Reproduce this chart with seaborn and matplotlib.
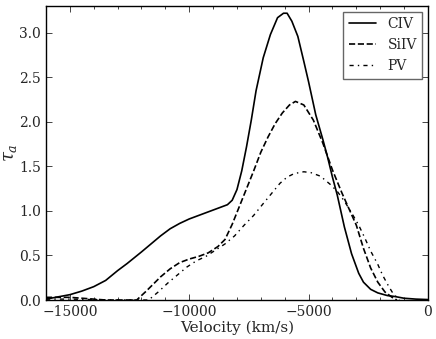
import matplotlib
matplotlib.use("Agg")
import matplotlib.pyplot as plt
import seaborn as sns
from matplotlib.ticker import MultipleLocator

# C IV optical depth profile
civ_v = [-16000, -15400, -15000, -14500, -14000, -13500, -13000, -12600, -12000, -11600,
         -11200, -10800, -10400, -10000, -9500, -9000, -8700, -8400, -8200, -8000,
         -7800, -7600, -7400, -7200, -6900, -6600, -6300, -6050, -5900, -5700,
         -5450, -5200, -5000, -4700, -4400, -4200, -4000, -3800, -3500, -3200,
         -2900, -2700, -2400, -2100, -1700, -1400, -1000, -500, 0]
civ_tau = [0.01, 0.04, 0.06, 0.10, 0.15, 0.22, 0.33, 0.41, 0.54, 0.63,
           0.72, 0.80, 0.86, 0.91, 0.96, 1.01, 1.04, 1.07, 1.12, 1.24,
           1.45, 1.72, 2.02, 2.35, 2.72, 2.98, 3.17, 3.22, 3.22, 3.13,
           2.96, 2.68, 2.45, 2.08, 1.80, 1.60, 1.38, 1.18, 0.82, 0.52,
           0.30, 0.20, 0.12, 0.08, 0.05, 0.04, 0.02, 0.01, 0.005]

# Si IV
siiv_v = [-16000, -15500, -15000, -14500, -14000, -13500, -12200, -11800, -11200, -10800,
          -10400, -10000, -9600, -9200, -8800, -8500, -8200, -7900, -7600, -7300,
          -7000, -6700, -6400, -6100, -5800, -5550, -5200, -4800, -4400, -4000,
          -3600, -3300, -3000, -2700, -2400, -2100, -1800, -1500, -1300]
siiv_tau = [0.03, 0.03, 0.03, 0.02, 0.01, 0.0, 0.0, 0.10, 0.26, 0.35,
            0.42, 0.46, 0.49, 0.53, 0.60, 0.68, 0.85, 1.05, 1.25, 1.45,
            1.66, 1.83, 1.98, 2.10, 2.19, 2.23, 2.19, 2.02, 1.76, 1.46,
            1.20, 1.02, 0.84, 0.58, 0.36, 0.20, 0.09, 0.03, 0.0]

# P V
pv_v = [-16000, -15000, -14000, -13500, -11700, -11300, -10900, -10500, -10100, -9700,
        -9300, -8900, -8500, -8100, -7700, -7300, -7000, -6600, -6200, -5900,
        -5600, -5200, -4900, -4500, -4100, -3800, -3500, -3200, -2900, -2650,
        -2400, -2100, -1900, -1700, -1500, -1340, -1200]
pv_tau = [0.01, 0.01, 0.005, 0.0, 0.0, 0.09, 0.19, 0.28, 0.37, 0.44,
          0.49, 0.56, 0.63, 0.72, 0.84, 0.95, 1.05, 1.18, 1.31, 1.38,
          1.42, 1.44, 1.43, 1.39, 1.30, 1.22, 1.11, 0.98, 0.84, 0.70,
          0.55, 0.40, 0.28, 0.18, 0.09, 0.04, 0.0]

sns.set_style('white')
plt.rcParams['font.family'] = ['DejaVu Serif']
plt.rcParams['mathtext.fontset'] = 'dejavuserif'
plt.rcParams['xtick.direction'] = 'in'
plt.rcParams['ytick.direction'] = 'in'

fig = plt.figure(figsize=(4.36, 3.39), dpi=100)
ax = fig.add_axes([0.1055, 0.115, 0.876, 0.867])

sns.lineplot(x=civ_v, y=civ_tau, ax=ax, sort=False, color='k', lw=1.2, ls='-', label='CIV')
sns.lineplot(x=siiv_v, y=siiv_tau, ax=ax, sort=False, color='k', lw=1.2, ls='--', label='SiIV')
sns.lineplot(x=pv_v, y=pv_tau, ax=ax, sort=False, color='k', lw=1.0,
             ls=(0, (3, 3, 1, 3)), label='PV')

ax.set_xlim(-16000, 0)
ax.set_ylim(0, 3.3)
ax.xaxis.set_major_locator(MultipleLocator(5000))
ax.xaxis.set_minor_locator(MultipleLocator(1000))
ax.yaxis.set_major_locator(MultipleLocator(0.5))
ax.tick_params(which='both', top=True, right=True, bottom=True, left=True, labelsize=10)
ax.tick_params(which='major', length=4, width=0.6)
ax.tick_params(which='minor', length=2, width=0.6)
for s in ax.spines.values():
    s.set_color('k')
    s.set_linewidth(1.0)

ax.set_xlabel('Velocity (km/s)', fontsize=11, labelpad=1)
ax.set_ylabel(r'$\tau_a$', fontsize=13, labelpad=0)

leg = ax.legend(loc='upper right', fontsize=10, fancybox=False, framealpha=1,
                edgecolor='0.4', handlelength=2.0, borderaxespad=0.4)
leg.get_frame().set_linewidth(1.0)

fig.savefig('out.png', dpi=100)
